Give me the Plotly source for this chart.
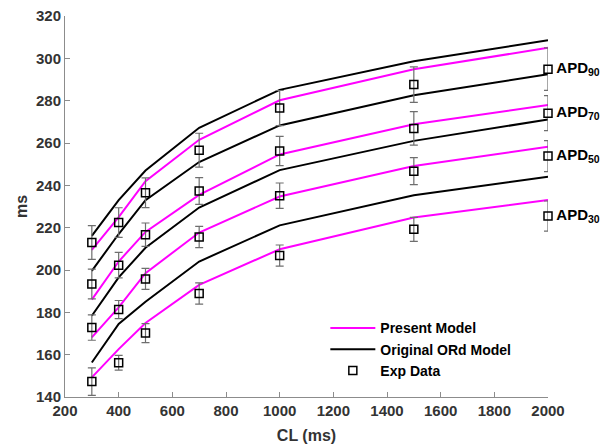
import plotly.graph_objects as go

cl = [300, 400, 500, 700, 1000, 1500, 2000]
labels = ["90", "70", "50", "30"]

present = {
    "90": [209.5, 225.0, 242.0, 261.5, 280.2, 294.8, 305.0],
    "70": [186.0, 204.0, 218.0, 235.5, 254.6, 268.9, 277.9],
    "50": [168.2, 182.3, 198.5, 217.7, 234.7, 249.1, 258.2],
    "30": [149.3, 162.6, 175.0, 193.0, 209.8, 224.8, 233.1],
}
original = {
    "90": [216.1, 233.0, 247.0, 267.2, 285.1, 298.6, 308.5],
    "70": [199.6, 217.0, 233.0, 251.0, 268.3, 282.6, 292.5],
    "50": [178.4, 196.5, 210.5, 229.5, 247.2, 261.0, 271.1],
    "30": [156.3, 174.5, 185.0, 204.0, 221.1, 235.3, 244.1],
}
exp_mean = {
    "90": [213.0, 222.4, 236.5, 256.6, 276.5, 287.6, 294.9],
    "70": [193.4, 202.3, 216.7, 237.3, 256.2, 266.9, 274.1],
    "50": [172.8, 181.3, 195.8, 215.6, 235.1, 246.7, 253.8],
    "30": [147.3, 156.2, 170.2, 188.9, 206.8, 219.2, 225.5],
}
exp_err = {
    "90": [8.0, 7.0, 7.0, 8.0, 8.3, 8.4, 10.0],
    "70": [7.0, 6.0, 5.5, 6.3, 6.9, 7.9, 8.3],
    "50": [6.0, 4.3, 5.0, 5.0, 6.0, 6.4, 7.3],
    "30": [6.5, 3.5, 4.5, 5.0, 5.0, 5.7, 7.1],
}
label_names = ["APD<sub>%s</sub>" % k for k in labels]

fig = go.Figure()

for i, k in enumerate(labels):
    fig.add_trace(go.Scatter(
        x=cl, y=original[k], mode="lines",
        line=dict(color="black", width=2),
        name="<b>Original ORd Model</b>", legendgroup="orig", showlegend=(i == 0),
        legendrank=2,
    ))
for i, k in enumerate(labels):
    fig.add_trace(go.Scatter(
        x=cl, y=present[k], mode="lines",
        line=dict(color="#FF00FF", width=2),
        name="<b>Present Model</b>", legendgroup="pres", showlegend=(i == 0),
        legendrank=1,
    ))
for i, k in enumerate(labels):
    fig.add_trace(go.Scatter(
        x=cl, y=exp_mean[k], mode="markers",
        marker=dict(symbol="square-open", size=8, color="black",
                    line=dict(width=1.5, color="black")),
        error_y=dict(type="data", array=exp_err[k], visible=True,
                     color="#6e6e6e", thickness=1.2, width=4),
        name="<b>Exp Data</b>", legendgroup="exp", showlegend=(i == 0),
        legendrank=3, cliponaxis=False,
    ))

fig.add_trace(go.Scatter(
    x=[cl[-1]] * len(labels), y=[exp_mean[k][-1] for k in labels],
    mode="text", text=["&nbsp;&nbsp;<b>%s</b>" % t for t in label_names],
    textposition="middle right", cliponaxis=False, showlegend=False,
    textfont=dict(family="Liberation Sans", size=15, color="black"),
    hoverinfo="skip",
))

axis_common = dict(
    showline=True, linecolor="#8c8c8c", linewidth=1,
    ticks="inside", ticklen=5, tickcolor="#8c8c8c", tickwidth=1,
    showgrid=False, zeroline=False, mirror=False, automargin=False,
    ticklabeloverflow="allow",
    tickfont=dict(family="Liberation Sans", size=15, color="#333333"),
)

fig.update_layout(
    width=610, height=448,
    margin=dict(l=57, r=70, t=8, b=59),
    paper_bgcolor="white", plot_bgcolor="white",
    font=dict(family="Liberation Sans", color="#333333"),
    xaxis=dict(range=[200, 2000], tickvals=list(range(200, 2001, 200)),
               ticktext=["<b>%d</b>" % v for v in range(200, 2001, 200)],
               title=dict(text="<b>CL (ms)</b>", standoff=11,
                          font=dict(size=16, color="#333333")),
               **axis_common),
    yaxis=dict(range=[140, 320], tickvals=list(range(140, 321, 20)),
               ticktext=["<b>%d</b>" % v for v in range(140, 321, 20)],
               title=dict(text="<b>ms</b>", standoff=4,
                          font=dict(size=16, color="#333333")),
               **axis_common),
    legend=dict(x=0.539, y=0.222, xanchor="left", yanchor="top",
                bgcolor="rgba(0,0,0,0)", borderwidth=0,
                font=dict(family="Liberation Sans", size=14, color="black"),
                itemwidth=45, tracegroupgap=0,
                traceorder="normal"),
    showlegend=True,
)

fig.write_html("out.html")
